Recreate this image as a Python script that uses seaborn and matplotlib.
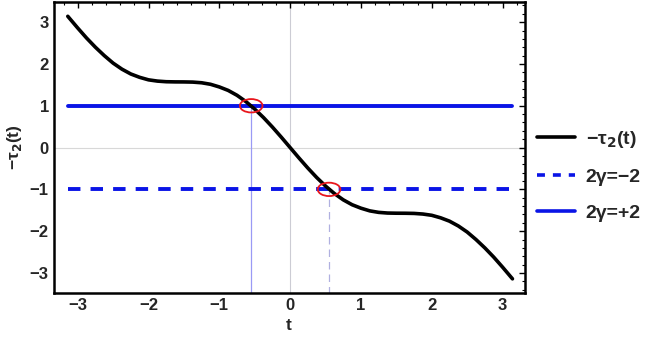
import numpy as np
import pandas as pd
import matplotlib
matplotlib.use("Agg")
import matplotlib.pyplot as plt
import seaborn as sns
from matplotlib.patches import Ellipse
from matplotlib.lines import Line2D
from matplotlib.ticker import MultipleLocator

# curve -tau2(t), values (left half; the curve is odd)
t_left = [-3.14, -3.125, -3.0, -2.875, -2.75, -2.625, -2.5, -2.375, -2.25, -2.125,
          -2.0, -1.875, -1.75, -1.625, -1.5, -1.375, -1.25, -1.125, -1.0, -0.875,
          -0.75, -0.625, -0.5, -0.375, -0.25, -0.125]
tau_left = [3.14, 3.11, 2.86, 2.62, 2.40, 2.20, 2.02, 1.875, 1.76, 1.68,
            1.62, 1.59, 1.575, 1.571, 1.57, 1.566, 1.55, 1.514, 1.45, 1.367,
            1.25, 1.10, 0.92, 0.716, 0.49, 0.249]
t_vals = t_left + [0.0] + [-v for v in t_left[::-1]]
tau_vals = tau_left + [0.0] + [-v for v in tau_left[::-1]]

# levels 2γ = ±2 and crossing points
level_labels = ["2γ=−2", "2γ=+2"]
level_values = [-1.0, 1.0]
cross_t = [0.55, -0.55]
line_span = [-3.14, 3.14]

sns.set_style("white")
plt.rcParams["font.family"] = ["Liberation Sans", "DejaVu Sans"]
plt.rcParams["font.weight"] = "bold"
plt.rcParams["mathtext.default"] = "bf"

fig, ax = plt.subplots(figsize=(6.54, 3.46), dpi=100)

df = pd.DataFrame({"t": t_vals, "tau": tau_vals})

# gridlines at 0
ax.axhline(0, color="#d8d8d8", lw=0.8, zorder=0)
ax.axvline(0, color="#ccccd4", lw=0.8, zorder=0)

# vertical guide lines
ax.plot([cross_t[1], cross_t[1]], [-3.5, level_values[1]], color="#9a9af5", lw=0.9, zorder=1)
ax.plot([cross_t[0], cross_t[0]], [-3.5, level_values[0]], color="#b0b0e0", lw=0.9,
        ls=(0, (6, 4)), zorder=1)

# horizontal levels
ax.plot(line_span, [level_values[1]] * 2, color="#0a14e6", lw=2.8, zorder=2)
ax.plot(line_span, [level_values[0]] * 2, color="#0a14e6", lw=2.8,
        ls=(0, (3.2, 2.6)), zorder=2)

sns.lineplot(data=df, x="t", y="tau", color="black", lw=2.6, ax=ax, zorder=3)

for ct, lv in zip(cross_t, level_values):
    ax.add_patch(Ellipse((ct, lv), 0.32, 0.32, fill=False,
                         edgecolor="#e8161c", lw=1.3, zorder=4))

ax.set_xlim(-3.34, 3.31)
ax.set_ylim(-3.48, 3.48)
ax.xaxis.set_major_locator(MultipleLocator(1))
ax.xaxis.set_minor_locator(MultipleLocator(0.2))
ax.yaxis.set_major_locator(MultipleLocator(1))
ax.yaxis.set_minor_locator(MultipleLocator(0.2))
ax.tick_params(which="both", direction="in", top=True, right=True, color="black")
ax.tick_params(which="major", length=4, width=1, labelsize=12)
ax.tick_params(which="minor", length=2, width=0.8)
fmt = lambda v, p: f"{int(round(v))}".replace("-", "−")
ax.xaxis.set_major_formatter(plt.FuncFormatter(fmt))
ax.yaxis.set_major_formatter(plt.FuncFormatter(fmt))

for s in ax.spines.values():
    s.set_color("black")
    s.set_linewidth(1.8)

ax.set_xlabel("t", fontsize=12.5, fontweight="bold")
ax.set_ylabel(r"−τ$_2$(t)", fontsize=12.5, fontweight="bold")

handles = [Line2D([], [], color="black", lw=2.6),
           Line2D([], [], color="#0a14e6", lw=2.6, ls=(0, (2.2, 2.2))),
           Line2D([], [], color="#0a14e6", lw=2.6)]
labels = [r"−τ$_2$(t)"] + level_labels
ax.legend(handles, labels, loc="center left", bbox_to_anchor=(1.01, 0.405),
          borderaxespad=0, frameon=False, fontsize=14, handlelength=1.95,
          handletextpad=0.55, labelspacing=0.95)

plt.subplots_adjust(left=0.082, right=0.802, top=0.994, bottom=0.153)
plt.savefig("out.png", dpi=100)
